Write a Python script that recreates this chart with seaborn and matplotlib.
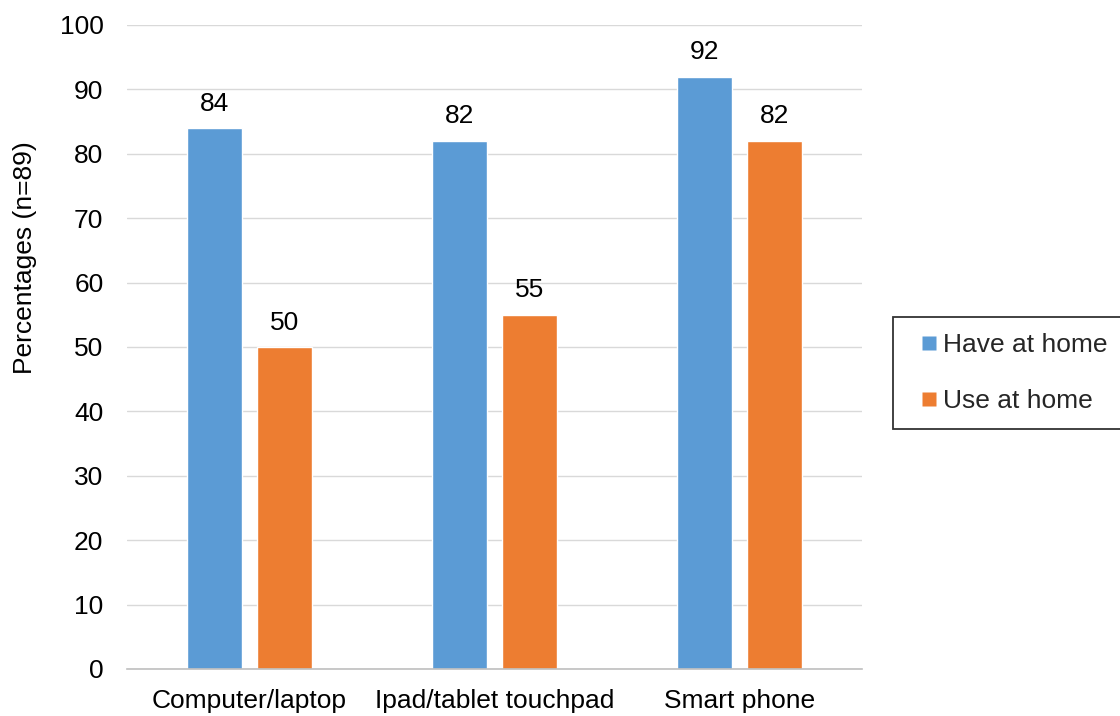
import matplotlib
matplotlib.use("Agg")
import matplotlib.pyplot as plt
import seaborn as sns
import pandas as pd
from matplotlib.lines import Line2D

devices = ["Computer/laptop", "Ipad/tablet touchpad", "Smart phone"]
have_at_home = [84, 82, 92]
use_at_home = [50, 55, 82]
series_names = ["Have at home", "Use at home"]
colors = ["#5B9BD5", "#ED7D31"]
y_ticks = list(range(0, 101, 10))

df = pd.DataFrame({
    "device": devices * 2,
    "pct": have_at_home + use_at_home,
    "series": [series_names[0]] * 3 + [series_names[1]] * 3,
})

sns.set_theme(style="white")
plt.rcParams["font.family"] = ["Liberation Sans", "DejaVu Sans"]
FS = 19

fig = plt.figure(figsize=(11.2, 7.16), dpi=100)
ax = fig.add_axes([127 / 1120, 1 - 669 / 716, 735 / 1120, 644 / 716])

sns.barplot(data=df, x="device", y="pct", hue="series", order=devices,
            hue_order=series_names, palette=colors, width=0.571, gap=0.214,
            saturation=1, ax=ax, legend=False)

for cont in ax.containers:
    ax.bar_label(cont, fmt="%d", padding=9, fontsize=FS, color="#000000")

ax.set_ylim(0, 100)
ax.set_xlim(-0.5, 2.5)
ax.set_yticks(y_ticks)
ax.yaxis.grid(True, color="#D9D9D9", linewidth=1)
ax.set_axisbelow(True)
for side in ["top", "right", "left"]:
    ax.spines[side].set_visible(False)
ax.spines["bottom"].set_color("#BFBFBF")
ax.spines["bottom"].set_linewidth(1.2)
ax.tick_params(axis="both", length=0, labelsize=FS, colors="#000000")
ax.tick_params(axis="y", pad=17)
ax.tick_params(axis="x", pad=14.5)
ax.set_xlabel("")
ax.set_ylabel("Percentages (n=89)", fontsize=FS, color="#000000")
ax.yaxis.label.set_va("center")
ax.yaxis.set_label_coords((25 - 127) / 735, (669 - 258) / 644)

handles = [Line2D([], [], linestyle="none", marker="s", markersize=10.5,
                  markerfacecolor=c, markeredgecolor="none") for c in colors]
leg = fig.legend(handles, series_names, loc="center left",
                 bbox_to_anchor=(893 / 1120, 1 - 373 / 716), frameon=True,
                 fancybox=False, fontsize=FS, handlelength=1.51,
                 handletextpad=-0.23, labelspacing=1.23,
                 borderpad=0.6, borderaxespad=0)
leg.get_frame().set_edgecolor("#000000")
leg.get_frame().set_linewidth(1.3)

fig.savefig("out.png", dpi=100)
